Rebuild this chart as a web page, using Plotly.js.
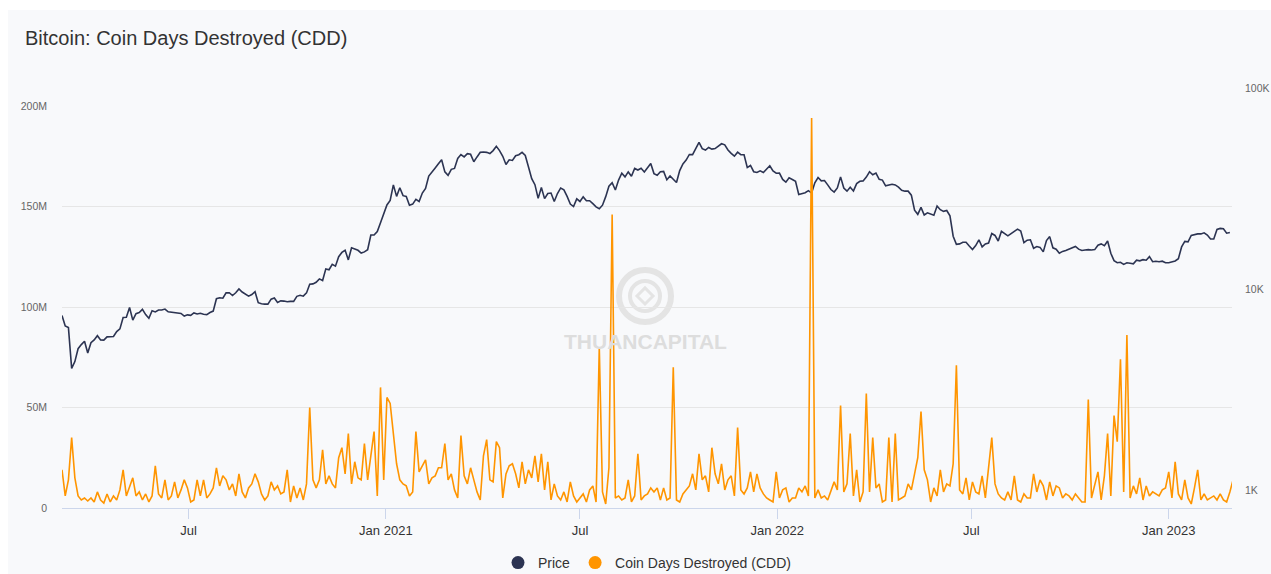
<!DOCTYPE html>
<html>
<head>
<meta charset="utf-8">
<script src="https://cdn.plot.ly/plotly-3.0.1.min.js"></script>
<style>
  html, body { margin: 0; padding: 0; background: #ffffff; width: 1271px; height: 574px; overflow: hidden; }
  #chart { position: absolute; left: 8px; top: 10px; width: 1263px; height: 564px; }
</style>
</head>
<body>
<div id="chart"></div>
<script>
// ---------- DATA ----------
const seriesNames = ['Price', 'Coin Days Destroyed (CDD)'];

// Bitcoin price (USD), one value every 3 days starting 2020-03-05
const priceStart = '2020-03-05';
const priceStepDays = 3;
const priceUsd = [
  9070, 8040, 7900, 4950, 5350, 6200, 6500, 6750, 5900,
  6640, 6860, 7200, 6860, 6840, 7100, 7120, 7130, 7550, 7780,
  8860, 8900, 9950, 8600, 9270, 9380, 9730, 9170, 8790, 9580, 9450,
  9660, 9670, 9770, 9460, 9430, 9410, 9310, 9290, 9010, 9140,
  9090, 9340, 9230, 9300, 9200, 9170, 9390, 9540, 11000, 11110,
  11060, 11760, 11780, 11400, 11770, 12300, 11870, 11650, 11330, 11540,
  11920, 10510, 10370, 10340, 10330, 10940, 11080, 10530, 10730, 10700,
  10620, 10670, 10670, 11300, 11430, 11320, 11750, 12990, 13030, 13270, 13800,
  13550, 15480, 15330, 16300, 15960, 17800, 18680, 19160, 17150, 19700,
  19450, 19150, 18550, 18800, 19270, 22800, 22800, 23730, 26270, 28900,
  32200, 33900, 40500, 35500, 39200, 35800, 35500, 32100, 32500, 34300,
  33500, 36900, 38900, 44800, 47200, 49200, 51600, 54000, 47000, 45200,
  48400, 48900, 54800, 57300, 55800, 57900, 57500, 52800, 55800, 58800,
  59000, 58800, 58000, 60000, 63000, 60000, 56200, 51200, 54000, 53600,
  56600, 57200, 58800, 56700, 49700, 43500, 40600, 34700, 39300, 34600,
  36700, 36900, 33500, 36700, 39100, 38300, 35500, 32500, 31600, 34500,
  33500, 35300, 33800, 33800, 32700, 31500, 30800, 32100, 35400, 39900, 41500,
  38200, 42800, 46300, 44400, 47000, 44700, 48900, 48000, 49000, 47000,
  49300, 51700, 46100, 45200, 47100, 47300, 43000, 44900, 43200, 41600,
  47700, 51500, 53800, 57400, 57300, 61500, 65900, 61300, 60400, 62200,
  61000, 61400, 63300, 64900, 64100, 60400, 58100, 56300, 58900, 57300,
  57200, 49400, 50600, 47100, 46700, 47600, 46700, 48600, 50400, 47500, 46300,
  46400, 43100, 41800, 43900, 43100, 42200, 36300, 36700, 37000, 37900,
  36900, 41500, 44100, 42400, 42600, 40500, 38400, 37300, 39100,
  44400, 39100, 37700, 39400, 37800, 41100, 42200, 42400, 44300, 47100, 45500,
  46400, 43200, 42800, 40100, 40600, 40800, 40500, 39500, 38100, 37700,
  37700, 36000, 30300, 28900, 31300, 28700, 29400, 29100, 28600, 31800,
  30500, 29900, 30200, 28400, 22500, 20500, 20600, 21000, 21000, 20100,
  19300, 20200, 21600, 19900, 20600, 20800, 23200, 22700, 21300, 23800,
  23300, 22600, 23200, 23900, 24400, 23900, 20900, 21500, 21600, 19600, 20000,
  19800, 18800, 21400, 22400, 19700, 19400, 18500, 18900, 19100, 19400,
  19600, 20000, 19400, 19100, 19200, 19300, 19200, 19300, 20300, 20600,
  20200, 21300, 18500, 17000, 16600, 16700, 16300, 16600, 16500, 16400,
  17100, 16970, 17200, 17100, 17800, 16800, 16900, 16800, 16900, 16600,
  16600, 16850, 16950, 17400, 19900, 21200, 21100, 22700, 22900, 23100, 23100,
  23400, 22800, 21800, 21800, 24300, 24600, 24500, 23300, 23500
];

// Coin Days Destroyed (millions), one value every 3 days starting 2020-03-05
const cddStart = '2020-03-05';
const cddStepDays = 3;
const cddMillions = [
  19, 6, 14, 35, 15, 6, 4, 5, 3.5, 5,
  3, 8, 4, 2.5, 7, 3, 6, 4, 9, 19,
  6, 10, 15, 6, 8, 4, 7, 3, 6, 21,
  7, 5, 14, 4, 6, 13, 5, 9, 14, 10,
  3, 4, 14, 6, 14, 5, 7, 10, 20, 11,
  16, 14, 9, 12, 6, 17, 8, 5, 10, 12,
  17, 13, 7, 4, 6, 13, 9, 11, 7, 8,
  19, 3, 11, 5, 10, 4, 12, 50, 14, 10,
  14, 29, 12, 16, 12, 10, 25, 30, 17, 37,
  12, 23, 15, 14, 32, 14, 25, 38, 6, 60,
  14, 55, 52, 36, 22, 14, 12, 11, 6, 8,
  38, 18, 21, 24, 12, 15, 16, 20, 20, 32,
  14, 17, 9, 5, 36, 16, 12, 20, 14, 8,
  4, 26, 34, 14, 13, 33, 30, 5, 17, 21,
  22, 17, 10, 23, 12, 19, 15, 26, 13, 27,
  9, 23, 4, 12, 6, 4, 8, 3, 13, 6,
  3, 5, 7, 3, 9, 11, 3, 80, 8, 2,
  20, 146, 5, 6, 4, 5, 14, 3, 6, 27,
  4, 6, 7, 10, 8, 10, 4, 10, 4, 5,
  70, 4, 3, 7, 9, 11, 17, 9, 27, 14,
  16, 8, 30, 17, 12, 22, 9, 14, 16, 6,
  40, 9, 7, 10, 18, 8, 17, 10, 7, 5,
  4, 3, 18, 5, 9, 10, 3, 5, 5, 10,
  8, 11, 6, 194, 5, 9, 5, 6, 4, 8,
  13, 9, 51, 8, 12, 37, 6, 19, 3, 8,
  57, 8, 35, 10, 12, 3, 4, 35, 3, 37,
  4, 5, 6, 12, 9, 17, 25, 48, 19, 14,
  3, 10, 6, 19, 8, 12, 11, 22, 71, 9,
  7, 15, 4, 13, 8, 7, 16, 5, 20, 35,
  12, 7, 5, 4, 8, 4, 16, 4, 3, 7,
  5, 5, 17, 8, 14, 11, 4, 13, 6, 11,
  10, 5, 7, 6, 4, 7, 5, 3, 3, 54,
  5, 11, 18, 4, 16, 37, 6, 46, 33, 74,
  8, 86, 5, 11, 7, 15, 4, 11, 6, 8,
  7, 6, 9, 10, 18, 5, 23, 7, 4, 14,
  5, 2, 10, 19, 4, 7, 4, 5, 6, 4,
  7, 4, 3, 8, 14
];

// Axis ticks
const xTickDates = ['2020-07-01', '2021-01-01', '2021-07-01', '2022-01-01', '2022-07-01', '2023-01-01'];
const xTickLabels = ['Jul', 'Jan 2021', 'Jul', 'Jan 2022', 'Jul', 'Jan 2023'];
const cddTickVals = [0, 50, 100, 150, 200];
const cddTickLabels = ['0', '50M', '100M', '150M', '200M'];
const priceTickVals = [1000, 10000, 100000];
const priceTickLabels = ['1K', '10K', '100K'];
const xRange = ['2020-03-05', '2023-03-01'];

// ---------- HELPERS ----------
function dateSeries(start, stepDays, n) {
  const base = new Date(start + 'T00:00:00Z').getTime();
  const out = [];
  for (let i = 0; i < n; i++) {
    out.push(new Date(base + i * stepDays * 86400000).toISOString().slice(0, 10));
  }
  return out;
}

const priceColor = '#2c3452';
const cddColor = '#ff9500';
const font = 'Liberation Sans, Arial, Helvetica, sans-serif';

const traces = [
  {
    x: dateSeries(priceStart, priceStepDays, priceUsd.length),
    y: priceUsd,
    type: 'scatter', mode: 'lines', yaxis: 'y',
    name: seriesNames[0], showlegend: false,
    line: { color: priceColor, width: 1.6 }
  },
  {
    x: dateSeries(cddStart, cddStepDays, cddMillions.length),
    y: cddMillions,
    type: 'scatter', mode: 'lines', yaxis: 'y2',
    name: seriesNames[1], showlegend: false,
    line: { color: cddColor, width: 1.6 }
  },
  { x: [null], y: [null], type: 'scatter', mode: 'markers', name: seriesNames[0],
    marker: { color: priceColor, size: 13, symbol: 'circle' }, hoverinfo: 'skip' },
  { x: [null], y: [null], type: 'scatter', mode: 'markers', name: seriesNames[1],
    marker: { color: cddColor, size: 13, symbol: 'circle' }, hoverinfo: 'skip' }
];

const layout = {
  width: 1263, height: 564,
  paper_bgcolor: '#f8f9fb', plot_bgcolor: '#f8f9fb',
  margin: { l: 54, r: 39, t: 96, b: 66, autoexpand: false },
  font: { family: font, color: '#333333' },
  title: {
    text: 'Bitcoin: Coin Days Destroyed (CDD)',
    x: 17 / 1263, xanchor: 'left', xref: 'container',
    y: 1 - 28 / 564, yanchor: 'middle', yref: 'container',
    font: { family: font, size: 20, color: '#333333' }
  },
  xaxis: {
    type: 'date', range: xRange,
    tickvals: xTickDates, ticktext: xTickLabels,
    showgrid: false, zeroline: false,
    showline: true, linecolor: '#ccd6eb', linewidth: 1,
    ticks: 'outside', ticklen: 10, tickcolor: '#ccd6eb', tickwidth: 1,
    tickfont: { family: font, size: 13, color: '#333333' },
    fixedrange: true
  },
  yaxis: {
    type: 'log', range: [3, 5], side: 'right',
    tickvals: priceTickVals, ticktext: priceTickLabels,
    showgrid: false, zeroline: false, showline: false, ticks: '',
    ticklabelshift: -18, ticklabelstandoff: 12,
    tickfont: { family: font, size: 10.5, color: '#666666' },
    fixedrange: true
  },
  yaxis2: {
    overlaying: 'y', side: 'left', range: [0, 200],
    tickvals: cddTickVals, ticktext: cddTickLabels,
    showgrid: true, gridcolor: '#e6e6e6', gridwidth: 1,
    zeroline: false, showline: false, ticks: '',
    ticklabelstandoff: 14,
    tickfont: { family: font, size: 10.5, color: '#666666' },
    fixedrange: true
  },
  legend: {
    orientation: 'h', x: 0.5, xanchor: 'center',
    yref: 'container', y: 1 - 553 / 564, yanchor: 'middle',
    font: { family: font, size: 14, color: '#333333' },
    bgcolor: 'rgba(0,0,0,0)', itemclick: false
  },
  shapes: [
    { type: 'circle', layer: 'below', xref: 'paper', yref: 'paper',
      xsizemode: 'pixel', ysizemode: 'pixel', xanchor: 0.4983, yanchor: 0.5274,
      x0: -26, x1: 26, y0: -26, y1: 26,
      line: { color: '#e4e4e4', width: 6 } },
    { type: 'circle', layer: 'below', xref: 'paper', yref: 'paper',
      xsizemode: 'pixel', ysizemode: 'pixel', xanchor: 0.4983, yanchor: 0.5274,
      x0: -15, x1: 15, y0: -15, y1: 15,
      line: { color: '#e4e4e4', width: 4 } },
    { type: 'path', layer: 'below', xref: 'paper', yref: 'paper',
      xsizemode: 'pixel', ysizemode: 'pixel', xanchor: 0.4983, yanchor: 0.5274,
      path: 'M 0 -8 L 8 0 L 0 8 L -8 0 Z',
      line: { color: '#e4e4e4', width: 3 } }
  ],
  annotations: [
    { text: '<b>THUANCAPITAL</b>', xref: 'paper', yref: 'paper',
      x: 0.499, y: 0.415, xanchor: 'center', yanchor: 'middle', showarrow: false,
      font: { family: font, size: 21, color: '#dddddd' } }
  ]
};

Plotly.newPlot('chart', traces, layout, { displayModeBar: false, staticPlot: true });
</script>
</body>
</html>
